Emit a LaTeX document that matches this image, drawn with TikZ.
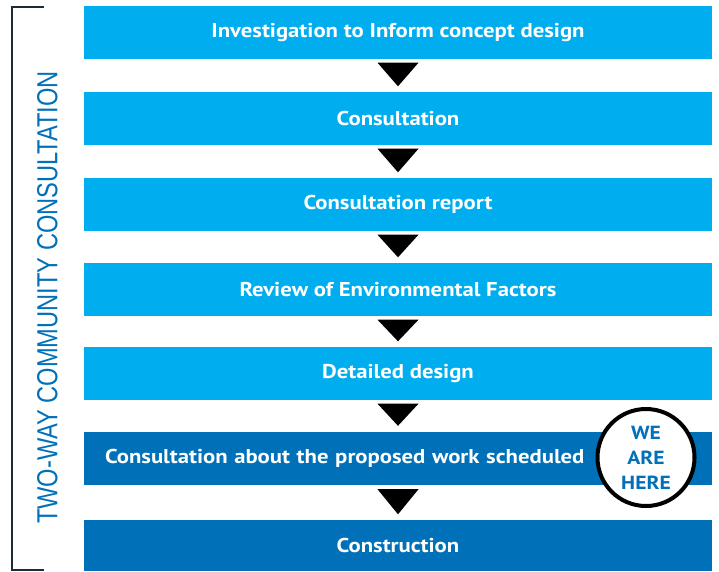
\documentclass[tikz,border=0pt]{standalone}
\usepackage{fontspec}
\setmainfont{PT Sans}[FakeStretch=1.135]
\newfontfamily\seitenfont[FakeStretch=0.815]{Liberation Sans}
\usetikzlibrary{calc}

\definecolor{hellblau}{HTML}{00AEEF}
\definecolor{dunkelblau}{HTML}{0071B9}
\definecolor{klammerfarbe}{HTML}{1C2B39}

\begin{document}
\begin{tikzpicture}[x=1pt,y=-1pt,
		schritt/.style={rectangle, minimum width=628pt, minimum height=53pt, inner sep=0pt,
			fill=hellblau, text=white, font=\fontsize{20}{24}\selectfont\bfseries},
		aktuell/.style={schritt, fill=dunkelblau},
		pfeil/.style={fill=black},
		hier/.style={circle, draw=black, line width=4pt, fill=white, minimum size=97pt, inner sep=0pt,
			align=center, text=dunkelblau, font=\fontsize{19}{25}\selectfont\bfseries},
		seite/.style={text=dunkelblau, inner sep=0pt, font=\seitenfont\fontsize{29}{30}\selectfont}]
		\useasboundingbox (0,0) rectangle (719,571);
		
		% Klammer
		\coordinate (K1) at (44,7);
		\coordinate (K2) at (12,7);
		\coordinate (K3) at (12,570);
		\coordinate (K4) at (44,570);
		\draw[klammerfarbe, line width=2pt] (K1) -- (K2) -- (K3) -- (K4);
		\node[seite, rotate=90] (seite) at (47.5,297.5) {TWO-WAY COMMUNITY CONSULTATION};
		
		% Schritte
		\node[schritt] (b1) at (398,32.5) {Investigation to Inform concept design};
		\node[schritt] (b2) at (398,118.5) {Consultation};
		\node[schritt] (b3) at (398,204.5) {Consultation report};
		\node[schritt] (b4) at (398,289.5) {Review of Environmental Factors};
		\node[schritt] (b5) at (398,373.5) {Detailed design};
		\node[aktuell, text width=586pt, align=left] (b6) at (398,458) {Consultation about the proposed work scheduled};
		\node[aktuell, minimum height=51pt] (b7) at (398,545.5) {Construction};
		
		% Pfeile
		\fill[pfeil] ($(b1.south)+(-20.5,3.5)$) -- ($(b1.south)+(20.5,3.5)$) -- ($(b2.north)+(0,-5.5)$) -- cycle;
		\fill[pfeil] ($(b2.south)+(-20.5,3.5)$) -- ($(b2.south)+(20.5,3.5)$) -- ($(b3.north)+(0,-5.5)$) -- cycle;
		\fill[pfeil] ($(b3.south)+(-20.5,3.5)$) -- ($(b3.south)+(20.5,3.5)$) -- ($(b4.north)+(0,-5.5)$) -- cycle;
		\fill[pfeil] ($(b4.south)+(-20.5,3.5)$) -- ($(b4.south)+(20.5,3.5)$) -- ($(b5.north)+(0,-5.5)$) -- cycle;
		\fill[pfeil] ($(b5.south)+(-20.5,3.5)$) -- ($(b5.south)+(20.5,3.5)$) -- ($(b6.north)+(0,-5.5)$) -- cycle;
		\fill[pfeil] ($(b6.south)+(-20.5,4.5)$) -- ($(b6.south)+(20.5,4.5)$) -- ($(b7.north)+(0,-5.5)$) -- cycle;
		
		% Markierung
		\node[hier] (wir) at (646,457.5) {WE\\ARE\\HERE};
	\end{tikzpicture}
\end{document}
